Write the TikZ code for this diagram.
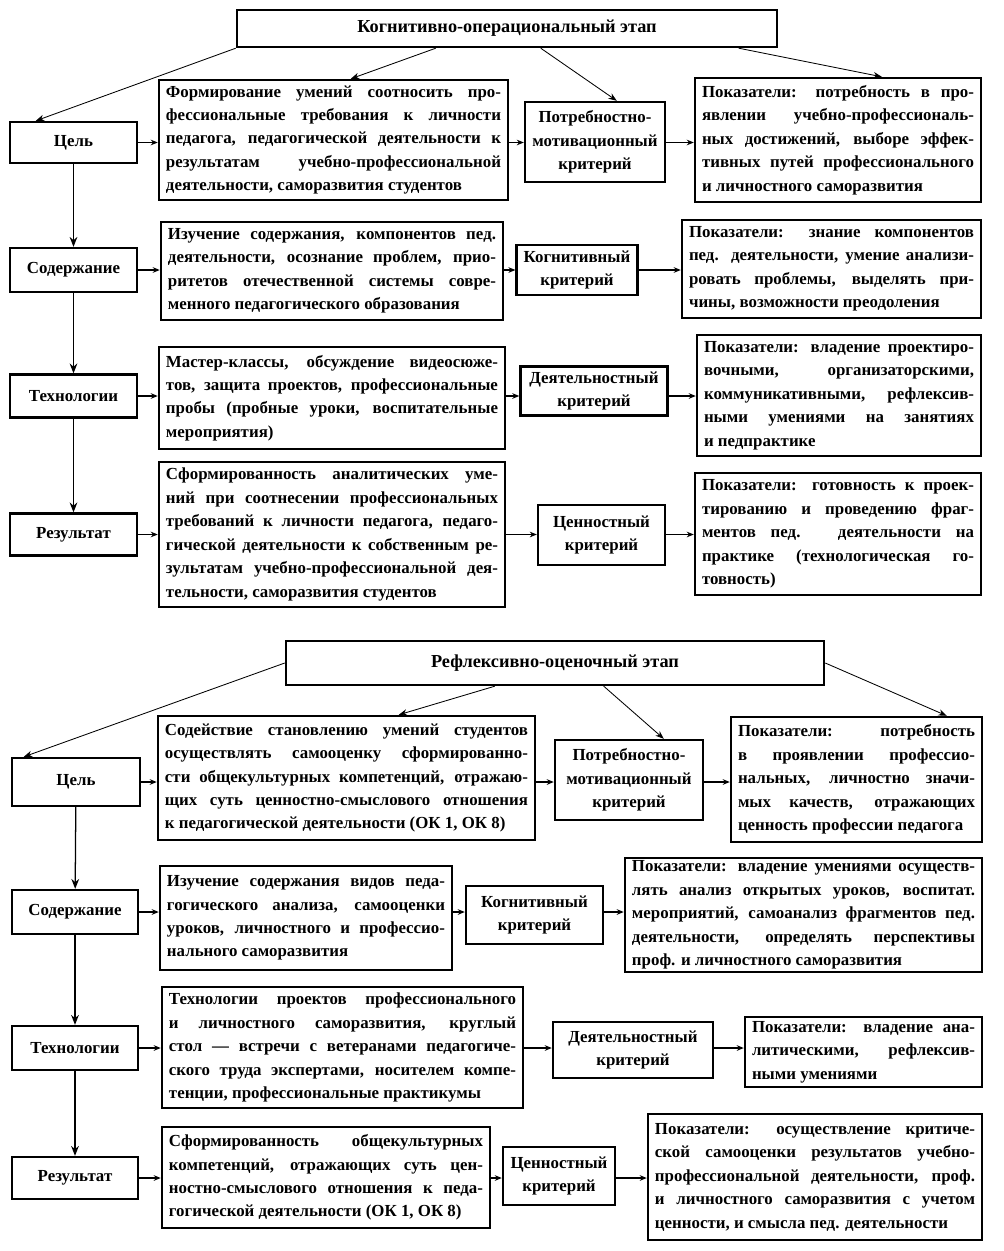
\documentclass[tikz,border=0pt]{standalone}
\usepackage{fontspec}
\setmainfont{Liberation Serif}
\usetikzlibrary{arrows.meta,calc}
\hyphenpenalty=10000
\exhyphenpenalty=10000
\tolerance=10000
\def\pxu{0.7113pt}

\begin{document}
\begin{tikzpicture}[
  x=0.025cm, y=-0.025cm,
  every node/.style={font=\bfseries\fontsize{12pt}{16.7pt}\selectfont},
  frame/.style={draw, line width=1.7pt, inner xsep=5pt, inner ysep=2pt},
  lbl/.style 2 args={frame, align=center, minimum width=#1*\pxu, minimum height=#2*\pxu},
  stage/.style 2 args={lbl={#1}{#2}, font=\bfseries\fontsize{13pt}{16.7pt}\selectfont},
  txt/.style 2 args={frame, align=justify, text width=#1*\pxu-10pt, minimum height=#2*\pxu},
  harr/.style={-{Stealth[length=5pt,width=4pt]}, line width=0.9pt},
  varr/.style={-{Stealth[length=7pt,width=5.5pt]}, line width=0.9pt},
  darr/.style={-{Stealth[length=6pt,width=4.5pt]}, line width=0.6pt}
]
\useasboundingbox (0,0) rectangle (1004,1251);

% cognitive-operational stage
\node[stage={540}{37}] (t1) at (507,28.5) {Когнитивно-операциональный этап};

\node[lbl={127}{41}] (g1) at (73.5,142.5) {Цель};
\node[txt={349}{120}] (a1) at (333.5,140) {Формирование умений соотносить про-\linebreak фессиональные требования к личности\linebreak педагога, педагогической деятельности к\linebreak результатам учебно-профессиональной\linebreak деятельности, саморазвития студентов};
\node[lbl={140}{80}] (k1) at (595,142) {Потребностно-\\мотивационный\\критерий};
\node[txt={286}{124}] (p1) at (838,140) {Показатели: потребность в про-\linebreak явлении учебно-профессиональ-\linebreak ных достижений, выборе эффек-\linebreak тивных путей профессионального\linebreak и личностного саморазвития};

\node[lbl={127}{44}] (s1) at (73.5,270) {Содержание};
\node[txt={342}{98}] (a2) at (332,271) {Изучение содержания, компонентов пед.\linebreak деятельности, осознание проблем, прио-\linebreak ритетов отечественной системы совре-\linebreak менного педагогического образования};
\node[lbl={112}{50}] (k2) at (577,270) {Когнитивный\\критерий};
\node[txt={299}{98}] (p2) at (831.5,269) {Показатели: знание компонентов\linebreak пед. деятельности, умение анализи-\linebreak ровать проблемы, выделять при-\linebreak чины, возможности преодоления};

\node[lbl={127}{43}] (h1) at (73.5,396) {Технологии};
\node[txt={346}{102}] (a3) at (332,398) {Мастер-классы, обсуждение видеосюже-\linebreak тов, защита проектов, профессиональные\linebreak пробы (пробные уроки, воспитательные\linebreak мероприятия)};
\node[lbl={147}{49}] (k3) at (594,391) {Деятельностный\\критерий};
\node[txt={284}{121}] (p3) at (839,395.5) {Показатели: владение проектиро-\linebreak вочными, организаторскими,\linebreak коммуникативными, рефлексив-\linebreak ными умениями на занятиях\linebreak и педпрактике};

\node[lbl={127}{42}] (r1) at (73.5,534.5) {Результат};
\node[txt={346}{145}] (a4) at (332,534.5) {Сформированность аналитических уме-\linebreak ний при соотнесении профессиональных\linebreak требований к личности педагога, педаго-\linebreak гической деятельности к собственным ре-\linebreak зультатам учебно-профессиональной дея-\linebreak тельности, саморазвития студентов};
\node[lbl={127}{60}] (k4) at (601.5,535) {Ценностный\\критерий};
\node[txt={286}{122}] (p4) at (838,534) {Показатели: готовность к проек-\linebreak тированию и проведению фраг-\linebreak ментов пед. деятельности на\linebreak практике (технологическая го-\linebreak товность)};

% reflexive-evaluative stage
\node[stage={538}{44}] (t2) at (555,663) {Рефлексивно-оценочный этап};

\node[lbl={128}{48}] (g2) at (76,782) {Цель};
\node[txt={377}{124}] (b1) at (346.5,778) {Содействие становлению умений студентов\linebreak осуществлять самооценку сформированно-\linebreak сти общекультурных компетенций, отражаю-\linebreak щих суть ценностно-смыслового отношения\linebreak к педагогической деятельности (ОК~1, ОК~8)};
\node[lbl={148}{80}] (k5) at (629,780) {Потребностно-\\мотивационный\\критерий};
\node[txt={251}{125}] (p5) at (856.5,779.5) {Показатели: потребность\linebreak в проявлении профессио-\linebreak нальных, личностно значи-\linebreak мых качеств, отражающих\linebreak ценность профессии педагога};

\node[lbl={126}{44}] (s2) at (75,912) {Содержание};
\node[txt={292}{104}] (b2) at (306,918) {Изучение содержания видов педа-\linebreak гогического анализа, самооценки\linebreak уроков, личностного и профессио-\linebreak нального саморазвития};
\node[lbl={137}{58}] (k6) at (534.5,915) {Когнитивный\\критерий};
\node[txt={357}{114}] (p6) at (803.5,915) {Показатели: владение умениями осуществ-\linebreak лять анализ открытых уроков, воспитат.\linebreak мероприятий, самоанализ фрагментов пед.\linebreak деятельности, определять перспективы\linebreak проф. и личностного саморазвития};

\node[lbl={126}{44}] (h2) at (75,1048) {Технологии};
\node[txt={361}{121}] (b3) at (342.5,1047.5) {Технологии проектов профессионального\linebreak и личностного саморазвития, круглый\linebreak стол — встречи с ветеранами педагогиче-\linebreak ского труда экспертами, носителем компе-\linebreak тенции, профессиональные практикумы};
\node[lbl={160}{56}] (k7) at (633,1050) {Деятельностный\\критерий};
\node[txt={237}{70}] (p7) at (863.5,1052) {Показатели: владение ана-\linebreak литическими, рефлексив-\linebreak ными умениями};

\node[lbl={126}{42}] (r2) at (75,1178) {Результат};
\node[txt={328}{101}] (b4) at (326,1177.5) {Сформированность общекультурных\linebreak компетенций, отражающих суть цен-\linebreak ностно-смыслового отношения к педа-\linebreak гогической деятельности (ОК~1, ОК~8)};
\node[lbl={112}{58}] (k8) at (559,1176) {Ценностный\\критерий};
\node[txt={334}{126}] (p8) at (815,1177) {Показатели: осуществление критиче-\linebreak ской самооценки результатов учебно-\linebreak профессиональной деятельности, проф.\linebreak и личностного саморазвития с учетом\linebreak ценности, и смысла пед. деятельности};

% arrows from the stage titles
\draw[darr] (t1.south west) -- ($(g1.north west)+(27,0)$);
\draw[darr] ($(t1.south west)+(200,0)$) -- ($(a1.north west)+(193,0)$);
\draw[darr] ($(t1.south west)+(305,0)$) -- ($(k1.north west)+(93,0)$);
\draw[darr] ($(t1.south west)+(503,0)$) -- ($(p1.north west)+(188,0)$);
\draw[darr] (t2.west) -- ($(g2.north west)+(13,0)$);
\draw[darr] ($(t2.south west)+(210,0)$) -- ($(b1.north west)+(242,0)$);
\draw[darr] ($(t2.south west)+(319,0)$) -- ($(k5.north west)+(110,0)$);
\draw[darr] (t2.east) -- ($(p5.north west)+(217,0)$);

% left column
\draw[varr] (g1) -- (s1);
\draw[varr] (s1) -- (h1);
\draw[varr] (h1) -- (r1);
\draw[varr] (g2) -- (s2);
\draw[varr] (s2) -- (h2);
\draw[varr] (h2) -- (r2);

% rows
\draw[harr] (g1.east) -- (g1.east -| a1.west);
\draw[harr] (a1.east |- g1.east) -- (g1.east -| k1.west);
\draw[harr] (k1.east |- g1.east) -- (g1.east -| p1.west);
\draw[harr] (s1.east) -- (s1.east -| a2.west);
\draw[harr] (a2.east |- s1.east) -- (s1.east -| k2.west);
\draw[harr] (k2.east |- s1.east) -- (s1.east -| p2.west);
\draw[harr] (h1.east) -- (h1.east -| a3.west);
\draw[harr] (a3.east |- h1.east) -- (h1.east -| k3.west);
\draw[harr] (k3.east |- h1.east) -- (h1.east -| p3.west);
\draw[harr] (r1.east) -- (r1.east -| a4.west);
\draw[harr] (a4.east |- r1.east) -- (r1.east -| k4.west);
\draw[harr] (k4.east |- r1.east) -- (r1.east -| p4.west);
\draw[harr] (g2.east) -- (g2.east -| b1.west);
\draw[harr] (b1.east |- g2.east) -- (g2.east -| k5.west);
\draw[harr] (k5.east |- g2.east) -- (g2.east -| p5.west);
\draw[harr] (s2.east) -- (s2.east -| b2.west);
\draw[harr] (b2.east |- s2.east) -- (s2.east -| k6.west);
\draw[harr] (k6.east |- s2.east) -- (s2.east -| p6.west);
\draw[harr] (h2.east) -- (h2.east -| b3.west);
\draw[harr] (b3.east |- h2.east) -- (h2.east -| k7.west);
\draw[harr] (k7.east |- h2.east) -- (h2.east -| p7.west);
\draw[harr] (r2.east) -- (r2.east -| b4.west);
\draw[harr] (b4.east |- r2.east) -- (r2.east -| k8.west);
\draw[harr] (k8.east |- r2.east) -- (r2.east -| p8.west);
\end{tikzpicture}
\end{document}
